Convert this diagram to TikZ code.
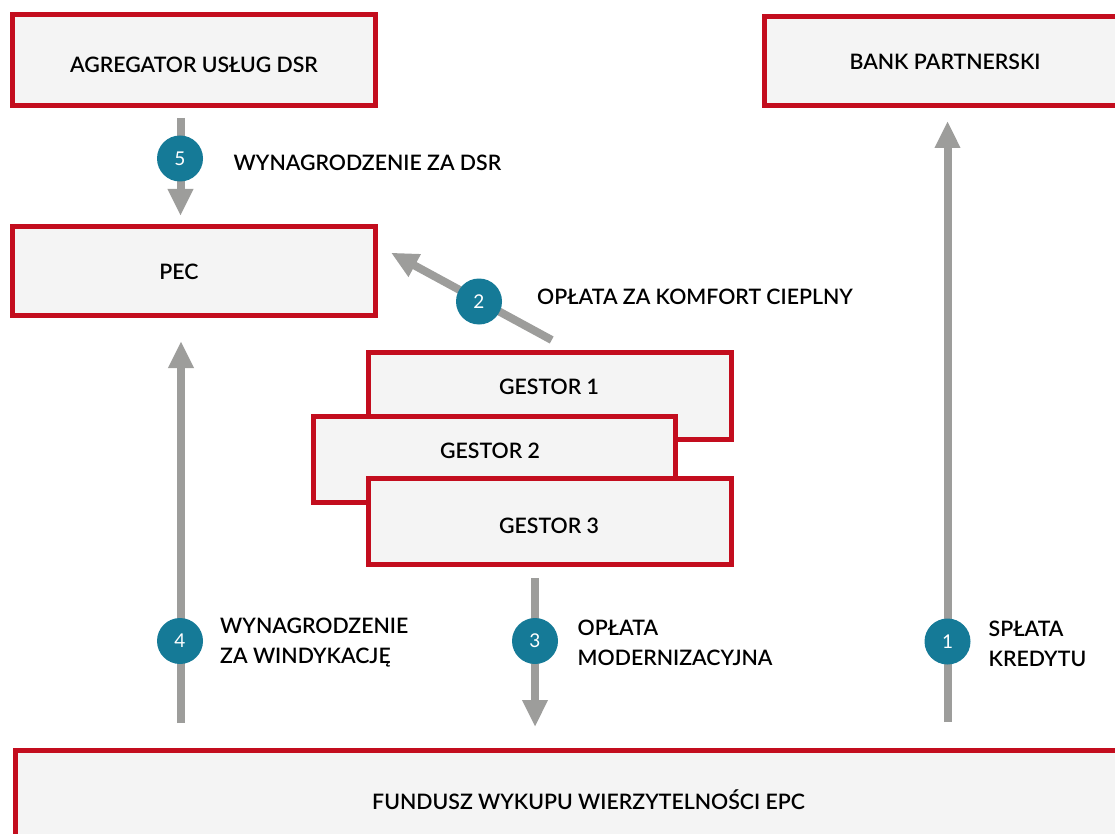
\documentclass[tikz,border=0pt]{standalone}
\usepackage{fontspec}
\setmainfont{Lato}[BoldFont={Lato Semibold}]
\usetikzlibrary{arrows.meta}
\definecolor{framered}{HTML}{C30D1E}
\definecolor{boxfill}{HTML}{F4F4F4}
\definecolor{stepteal}{HTML}{157A97}
\definecolor{flowgray}{HTML}{9D9D9B}
\begin{document}
\begin{tikzpicture}[x=1pt,y=-1pt,
  entity/.style={draw=framered, line width=5pt, fill=boxfill, inner sep=0pt},
  caption/.style={font=\fontsize{21.3}{24}\selectfont\bfseries, text=black, inner sep=0pt},
  flowlabel/.style={caption, anchor=west, align=left, font=\fontsize{21.3}{30}\selectfont\bfseries},
  flow/.style={draw=flowgray, line width=8pt, -{Triangle[width=24pt,length=27pt]}},
  badge/.style={circle, fill=stepteal, minimum size=46pt, inner sep=0pt, text=white, font=\fontsize{19}{19}\selectfont}
]
\useasboundingbox (0,0) rectangle (1115,834);
\clip (0,0) rectangle (1115,834);

% top boxes
\node[entity, minimum width=363pt, minimum height=91pt] (agr) at (194,60) {};
\node[caption] (agrtext) at (194,65) {AGREGATOR USŁUG DSR};
\node[entity, minimum width=361pt, minimum height=89pt] (bank) at (945,61) {};
\node[caption] (banktext) at (945,62) {BANK PARTNERSKI};

% PEC
\node[entity, minimum width=363pt, minimum height=89pt] (pec) at (194,271) {};
\node[caption] (pectext) at (179,272) {PEC};

% stacked gestor boxes
\node[entity, minimum width=363pt, minimum height=87pt] (g1) at (550,396) {};
\node[caption] (g1text) at (549,387) {GESTOR 1};
\node[entity, minimum width=362pt, minimum height=86pt] (g2) at (494.5,459.5) {};
\node[caption] (g2text) at (490,451) {GESTOR 2};
\node[entity, minimum width=363pt, minimum height=86pt] (g3) at (550,521.5) {};
\node[caption] (g3text) at (549,526) {GESTOR 3};

% fund
\node[entity, minimum width=1146pt, minimum height=107pt] (fund) at (588.5,804) {};
\node[caption] (fundtext) at (588.5,800) {FUNDUSZ WYKUPU WIERZYTELNOŚCI EPC};

% connector end points
\coordinate (a5s) at (180.5,118);
\coordinate (a5e) at (180.5,216);
\coordinate (a2s) at (551.7,340);
\coordinate (a2e) at (391,252.7);
\coordinate (a3s) at (535,578);
\coordinate (a3e) at (535,727);
\coordinate (a4s) at (181,723);
\coordinate (a4e) at (181,341);
\coordinate (a1s) at (947.5,722);
\coordinate (a1e) at (947.5,121);

\draw[flow] (a5s) -- (a5e);
\draw[flow] (a2s) -- (a2e);
\draw[flow] (a3s) -- (a3e);
\draw[flow] (a4s) -- (a4e);
\draw[flow] (a1s) -- (a1e);

% numbered badges
\node[badge] (b5) at (180,158.5) {5};
\node[badge] (b2) at (479,301.5) {2};
\node[badge] (b3) at (535,641) {3};
\node[badge] (b4) at (180,641) {4};
\node[badge] (b1) at (947.5,641.5) {1};

% flow labels
\node[flowlabel] (l5) at (233.5,163) {WYNAGRODZENIE ZA DSR};
\node[flowlabel] (l2) at (537,297) {OPŁATA ZA KOMFORT CIEPLNY};
\node[flowlabel] (l3) at (577.5,643) {OPŁATA\\MODERNIZACYJNA};
\node[flowlabel] (l4) at (220,642.5) {WYNAGRODZENIE\\ZA WINDYKACJĘ};
\node[flowlabel] (l1) at (988.5,643.5) {SPŁATA\\KREDYTU};
\end{tikzpicture}
\end{document}
